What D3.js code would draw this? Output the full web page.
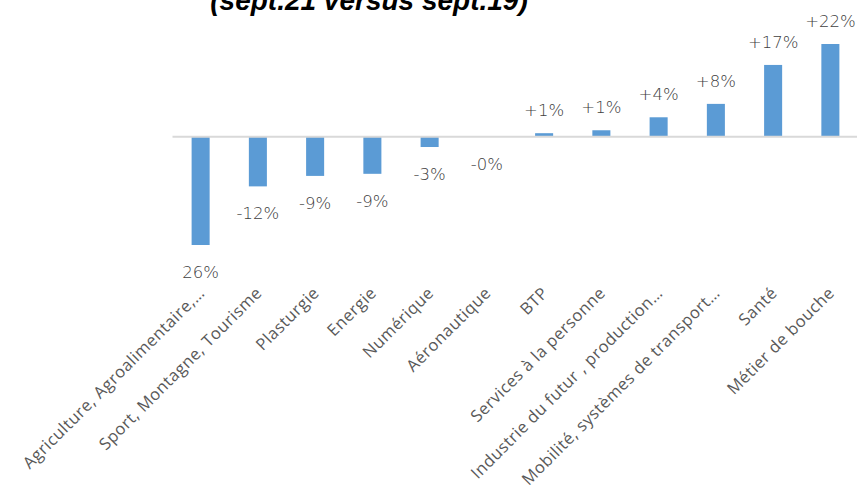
<!DOCTYPE html>
<html>
<head>
<meta charset="utf-8">
<script src="https://cdn.jsdelivr.net/npm/d3@7"></script>
<style>
  body { margin: 0; background: #fff; }
  svg { display: block; }
</style>
</head>
<body>
<svg></svg>
<script>
const categories = [
  'Agriculture, Agroalimentaire,…',
  'Sport, Montagne, Tourisme',
  'Plasturgie',
  'Energie',
  'Numérique',
  'Aéronautique',
  'BTP',
  'Services à la personne',
  'Industrie du futur , production…',
  'Mobilité, systèmes de transport…',
  'Santé',
  'Métier de bouche'
];
const values = [-26, -12, -9.5, -9, -2.6, -0.2, 0.7, 1.4, 4.5, 7.7, 17, 22];
const valueLabels = ['26%', '-12%', '-9%', '-9%', '-3%', '-0%', '+1%', '+1%', '+4%', '+8%', '+17%', '+22%'];

const width = 857;
const height = 494;

const svg = d3.select('svg')
  .attr('width', width)
  .attr('height', height);

const data = categories.map((c, i) => ({ name: c, value: values[i], label: valueLabels[i] }));

const xScale = d3.scaleBand()
  .domain(categories)
  .range([172, 859])
  .paddingInner(0.685)
  .paddingOuter(0.685 / 2);

const yScale = d3.scaleLinear()
  .domain([-26, 22])
  .range([245, 44]);

// title (cut off at the top in the original)
svg.append('text')
  .attr('x', 369)
  .attr('y', 10)
  .attr('text-anchor', 'middle')
  .style('font-family', '"Liberation Sans", Arial, sans-serif')
  .style('font-weight', 'bold')
  .style('font-style', 'italic')
  .style('font-size', '28px')
  .style('fill', '#000')
  .text('(sept.21 versus sept.19)');

// bars
svg.selectAll('rect.bar')
  .data(data)
  .enter()
  .append('rect')
  .attr('class', 'bar')
  .attr('x', d => xScale(d.name))
  .attr('y', d => yScale(Math.max(0, d.value)))
  .attr('width', xScale.bandwidth())
  .attr('height', d => Math.abs(yScale(d.value) - yScale(0)))
  .style('fill', '#5b9bd5');

// zero axis
const xAxis = d3.axisBottom(xScale).tickSize(0).tickFormat('');
const axisG = svg.append('g')
  .attr('transform', 'translate(0,' + yScale(0) + ')')
  .call(xAxis);
axisG.select('.domain')
  .attr('stroke', '#d9d9d9')
  .attr('stroke-width', 2);

// value labels
svg.selectAll('text.value')
  .data(data)
  .enter()
  .append('text')
  .attr('class', 'value')
  .attr('x', d => xScale(d.name) + xScale.bandwidth() / 2)
  .attr('y', d => d.value < 0 ? yScale(d.value) + 33 : yScale(d.value) - 17)
  .attr('text-anchor', 'middle')
  .style('font-family', '"DejaVu Sans", sans-serif')
  .style('font-weight', 200)
  .style('font-size', '16.5px')
  .style('fill', '#404040')
  .text(d => d.label);

// category labels
svg.selectAll('text.cat')
  .data(data)
  .enter()
  .append('text')
  .attr('class', 'cat')
  .attr('transform', d => {
    const cx = xScale(d.name) + xScale.bandwidth() / 2 + 5;
    return 'translate(' + cx + ',' + 294 + ') rotate(-45)';
  })
  .attr('text-anchor', 'end')
  .style('font-family', '"Open Sans", sans-serif')
  .style('font-size', '16.5px')
  .style('letter-spacing', '0.5px')
  .style('fill', '#595959')
  .text(d => d.name);
</script>
</body>
</html>
